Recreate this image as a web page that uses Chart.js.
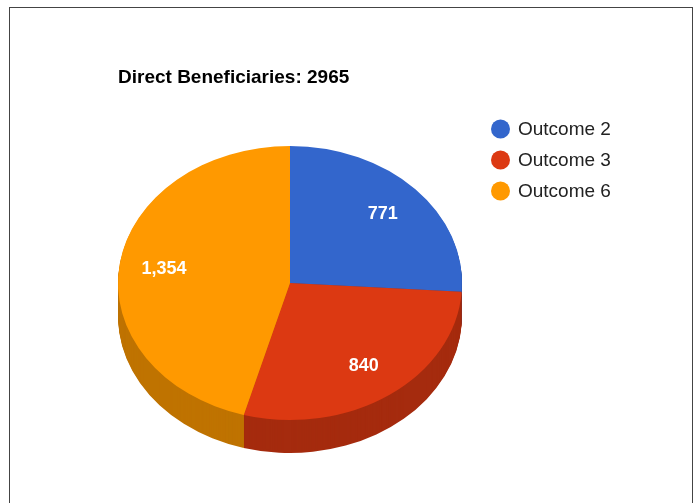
<!DOCTYPE html>
<html>
<head>
<meta charset="utf-8">
<script src="https://cdn.jsdelivr.net/npm/chart.js@4"></script>
<style>
  html, body { margin: 0; padding: 0; background: #fff; overflow: hidden; }
  #frame { position: absolute; left: 9px; top: 7px; width: 682px; height: 540px; border: 1px solid #444; }
  #wrap { position: absolute; left: 0; top: 0; width: 696px; height: 503px; }
</style>
</head>
<body>
<div id="frame"></div>
<div id="wrap"><canvas id="pie"></canvas></div>
<script>
const title = 'Direct Beneficiaries: 2965';
const labels = ['Outcome 2', 'Outcome 3', 'Outcome 6'];
const values = [771, 840, 1354];
const colors = ['#3366cc', '#dc3912', '#ff9900'];
const sideColors = ['#264c99', '#a52b0e', '#bf7300'];

const tilt = 137 / 172;   // squash the circle into an ellipse
const depth = 33;         // thickness of the 3d edge
const font = '"Liberation Sans", Arial, sans-serif';

// fake google style 3d pie: draw the edge, then the top, then the labels
const pie3d = {
  id: 'pie3d',
  beforeDatasetsDraw(chart) {
    const ctx = chart.ctx;
    const arcs = chart.getDatasetMeta(0).data;
    const cy = arcs[0].y;

    for (let d = depth; d > 0; d--) {
      ctx.save();
      ctx.translate(0, cy + d);
      ctx.scale(1, tilt);
      ctx.translate(0, -cy);
      arcs.forEach((arc, i) => {
        const p = arc.getProps(['x', 'y', 'startAngle', 'endAngle', 'outerRadius'], true);
        ctx.beginPath();
        ctx.moveTo(p.x, p.y);
        ctx.arc(p.x, p.y, p.outerRadius, p.startAngle, p.endAngle);
        ctx.closePath();
        ctx.fillStyle = sideColors[i];
        ctx.fill();
      });
      ctx.restore();
    }

    ctx.save();
    ctx.translate(0, cy);
    ctx.scale(1, tilt);
    ctx.translate(0, -cy);
    arcs.forEach(arc => arc.draw(ctx));
    ctx.restore();

    ctx.save();
    ctx.fillStyle = '#fff';
    ctx.font = 'bold 18px ' + font;
    ctx.textAlign = 'center';
    ctx.textBaseline = 'middle';
    arcs.forEach((arc, i) => {
      const p = arc.getProps(['x', 'y', 'startAngle', 'endAngle', 'outerRadius'], true);
      const mid = (p.startAngle + p.endAngle) / 2;
      const r = p.outerRadius * 0.74;
      ctx.fillText(values[i].toLocaleString('en-US'), p.x + Math.cos(mid) * r, p.y + Math.sin(mid) * r * tilt);
    });
    ctx.restore();
    return false;
  },
  afterDraw(chart) {
    const ctx = chart.ctx;
    ctx.save();
    ctx.fillStyle = '#000';
    ctx.font = 'bold 19px ' + font;
    ctx.textAlign = 'left';
    ctx.textBaseline = 'alphabetic';
    ctx.fillText(title, 118, 83);

    ctx.font = '19px ' + font;
    ctx.textBaseline = 'middle';
    chart.data.labels.forEach((lab, i) => {
      const y = 129 + i * 31;
      ctx.beginPath();
      ctx.arc(500.5, y, 9.5, 0, Math.PI * 2);
      ctx.fillStyle = colors[i];
      ctx.fill();
      ctx.fillStyle = '#222';
      ctx.fillText(lab, 518, y + 1);
    });
    ctx.restore();
  }
};

new Chart(document.getElementById('pie').getContext('2d'), {
  type: 'pie',
  data: {
    labels: labels,
    datasets: [{
      data: values,
      backgroundColor: colors,
      borderWidth: 0,
      clip: false
    }]
  },
  options: {
    responsive: true,
    maintainAspectRatio: false,
    animation: false,
    layout: { padding: { left: 118, right: 234, top: 111, bottom: 48 } },
    plugins: {
      legend: { display: false },
      tooltip: { enabled: false }
    },
    events: []
  },
  plugins: [pie3d]
});
</script>
</body>
</html>
